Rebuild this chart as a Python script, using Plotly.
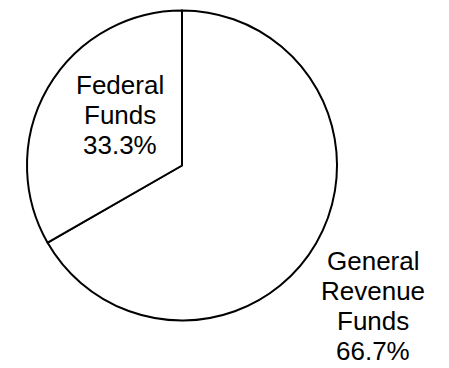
import plotly.graph_objects as go

labels = ["General<br>Revenue<br>Funds", "Federal<br>Funds"]
values = [66.7, 33.3]

# layout: pixel position (center x, middle of first line y) for each label block
label_pos_px = [(373, 261), (119.5, 85)]
line_step_px = 30
W, H = 449, 368
FONT = dict(family="Arial, Liberation Sans", size=26, color="black")

fig = go.Figure(
    go.Pie(
        labels=labels,
        values=values,
        sort=False,
        direction="clockwise",
        rotation=0,
        textinfo="none",
        marker=dict(colors=["white", "white"], line=dict(color="black", width=2)),
        domain=dict(x=[27 / W, 337 / W], y=[1 - 321 / H, 1 - 10 / H]),
        hoverinfo="label+percent",
    )
)

total = sum(values)
annotations = []
for lab, val, (cx, cy) in zip(labels, values, label_pos_px):
    lines = lab.split("<br>") + [f"{100 * val / total:.1f}%"]
    for i, line in enumerate(lines):
        annotations.append(
            dict(
                text=line,
                x=cx / W,
                y=1 - (cy + i * line_step_px) / H,
                xref="paper",
                yref="paper",
                xanchor="center",
                yanchor="middle",
                showarrow=False,
                font=FONT,
            )
        )

fig.update_layout(
    width=W,
    height=H,
    margin=dict(l=0, r=0, t=0, b=0),
    showlegend=False,
    paper_bgcolor="white",
    plot_bgcolor="white",
    annotations=annotations,
)
fig.write_html("out.html")
